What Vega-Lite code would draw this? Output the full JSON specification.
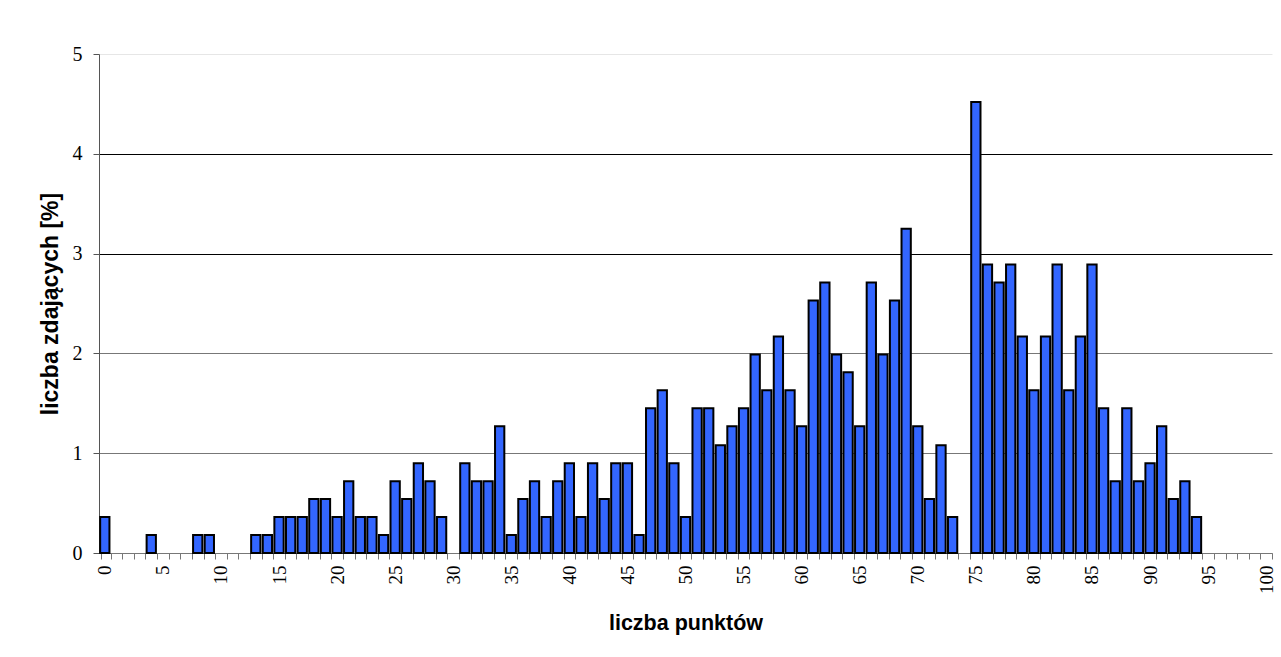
{
  "$schema": "https://vega.github.io/schema/vega-lite/v6.json",
  "autosize": {"type": "none"},
  "padding": {"left": 99, "top": 54, "right": 9, "bottom": 104},
  "width": 1173,
  "height": 499,
  "background": "white",
  "config": {"view": {"stroke": null}},
  "data": {"values": [
    {"pkt": 0, "pct": 0.36}, {"pkt": 1, "pct": 0}, {"pkt": 2, "pct": 0}, {"pkt": 3, "pct": 0},
    {"pkt": 4, "pct": 0.18}, {"pkt": 5, "pct": 0}, {"pkt": 6, "pct": 0}, {"pkt": 7, "pct": 0},
    {"pkt": 8, "pct": 0.18}, {"pkt": 9, "pct": 0.18}, {"pkt": 10, "pct": 0}, {"pkt": 11, "pct": 0},
    {"pkt": 12, "pct": 0}, {"pkt": 13, "pct": 0.18}, {"pkt": 14, "pct": 0.18}, {"pkt": 15, "pct": 0.36},
    {"pkt": 16, "pct": 0.36}, {"pkt": 17, "pct": 0.36}, {"pkt": 18, "pct": 0.54}, {"pkt": 19, "pct": 0.54},
    {"pkt": 20, "pct": 0.36}, {"pkt": 21, "pct": 0.72}, {"pkt": 22, "pct": 0.36}, {"pkt": 23, "pct": 0.36},
    {"pkt": 24, "pct": 0.18}, {"pkt": 25, "pct": 0.72}, {"pkt": 26, "pct": 0.54}, {"pkt": 27, "pct": 0.90},
    {"pkt": 28, "pct": 0.72}, {"pkt": 29, "pct": 0.36}, {"pkt": 30, "pct": 0}, {"pkt": 31, "pct": 0.90},
    {"pkt": 32, "pct": 0.72}, {"pkt": 33, "pct": 0.72}, {"pkt": 34, "pct": 1.27}, {"pkt": 35, "pct": 0.18},
    {"pkt": 36, "pct": 0.54}, {"pkt": 37, "pct": 0.72}, {"pkt": 38, "pct": 0.36}, {"pkt": 39, "pct": 0.72},
    {"pkt": 40, "pct": 0.90}, {"pkt": 41, "pct": 0.36}, {"pkt": 42, "pct": 0.90}, {"pkt": 43, "pct": 0.54},
    {"pkt": 44, "pct": 0.90}, {"pkt": 45, "pct": 0.90}, {"pkt": 46, "pct": 0.18}, {"pkt": 47, "pct": 1.45},
    {"pkt": 48, "pct": 1.63}, {"pkt": 49, "pct": 0.90}, {"pkt": 50, "pct": 0.36}, {"pkt": 51, "pct": 1.45},
    {"pkt": 52, "pct": 1.45}, {"pkt": 53, "pct": 1.08}, {"pkt": 54, "pct": 1.27}, {"pkt": 55, "pct": 1.45},
    {"pkt": 56, "pct": 1.99}, {"pkt": 57, "pct": 1.63}, {"pkt": 58, "pct": 2.17}, {"pkt": 59, "pct": 1.63},
    {"pkt": 60, "pct": 1.27}, {"pkt": 61, "pct": 2.53}, {"pkt": 62, "pct": 2.71}, {"pkt": 63, "pct": 1.99},
    {"pkt": 64, "pct": 1.81}, {"pkt": 65, "pct": 1.27}, {"pkt": 66, "pct": 2.71}, {"pkt": 67, "pct": 1.99},
    {"pkt": 68, "pct": 2.53}, {"pkt": 69, "pct": 3.25}, {"pkt": 70, "pct": 1.27}, {"pkt": 71, "pct": 0.54},
    {"pkt": 72, "pct": 1.08}, {"pkt": 73, "pct": 0.36}, {"pkt": 74, "pct": 0}, {"pkt": 75, "pct": 4.52},
    {"pkt": 76, "pct": 2.89}, {"pkt": 77, "pct": 2.71}, {"pkt": 78, "pct": 2.89}, {"pkt": 79, "pct": 2.17},
    {"pkt": 80, "pct": 1.63}, {"pkt": 81, "pct": 2.17}, {"pkt": 82, "pct": 2.89}, {"pkt": 83, "pct": 1.63},
    {"pkt": 84, "pct": 2.17}, {"pkt": 85, "pct": 2.89}, {"pkt": 86, "pct": 1.45}, {"pkt": 87, "pct": 0.72},
    {"pkt": 88, "pct": 1.45}, {"pkt": 89, "pct": 0.72}, {"pkt": 90, "pct": 0.90}, {"pkt": 91, "pct": 1.27},
    {"pkt": 92, "pct": 0.54}, {"pkt": 93, "pct": 0.72}, {"pkt": 94, "pct": 0.36}, {"pkt": 95, "pct": 0},
    {"pkt": 96, "pct": 0}, {"pkt": 97, "pct": 0}, {"pkt": 98, "pct": 0}, {"pkt": 99, "pct": 0},
    {"pkt": 100, "pct": 0}
  ]},
  "mark": {"type": "bar", "fill": "#3366ff", "stroke": "#000000", "strokeWidth": 2},
  "encoding": {
    "x": {
      "field": "pkt",
      "type": "ordinal",
      "sort": null,
      "scale": {"paddingInner": 0.2, "paddingOuter": 0.1},
      "axis": {
        "title": "liczba punktów",
        "titleFont": "Liberation Sans",
        "titleFontSize": 21.5,
        "titleFontWeight": "bold",
        "titleColor": "#000000",
        "titlePadding": 19,
        "labelExpr": "datum.value % 5 === 0 ? datum.label : ''",
        "labelAngle": -90,
        "labelFont": "Liberation Serif",
        "labelFontSize": 19,
        "labelColor": "#000000",
        "labelPadding": 6,
        "labelOffset": -1.16,
        "labelOverlap": false,
        "bandPosition": 1,
        "tickExtra": true,
        "tickOffset": 1.16,
        "tickSize": 6,
        "tickColor": "#777777",
        "tickWidth": 1,
        "domainColor": "#777777",
        "domainWidth": 1,
        "grid": false
      }
    },
    "y": {
      "field": "pct",
      "type": "quantitative",
      "scale": {"domain": [0, 5], "nice": false, "zero": true},
      "axis": {
        "title": "liczba zdających [%]",
        "titleFont": "Liberation Sans",
        "titleFontSize": 23,
        "titleFontWeight": "bold",
        "titleColor": "#000000",
        "titlePadding": 10,
        "values": [0, 1, 2, 3, 4, 5],
        "labelFont": "Liberation Serif",
        "labelFontSize": 20,
        "labelColor": "#000000",
        "labelPadding": 11,
        "tickSize": 6,
        "tickColor": "#555555",
        "domainColor": "#555555",
        "grid": true,
        "gridWidth": 1,
        "gridColor": {
          "condition": [
            {"test": "datum.value === 5", "value": "#e6e6e6"},
            {"test": "datum.value <= 2", "value": "#777777"}
          ],
          "value": "#000000"
        }
      }
    },
    "strokeOpacity": {
      "condition": {"test": "datum.pct === 0", "value": 0},
      "value": 1
    }
  }
}
